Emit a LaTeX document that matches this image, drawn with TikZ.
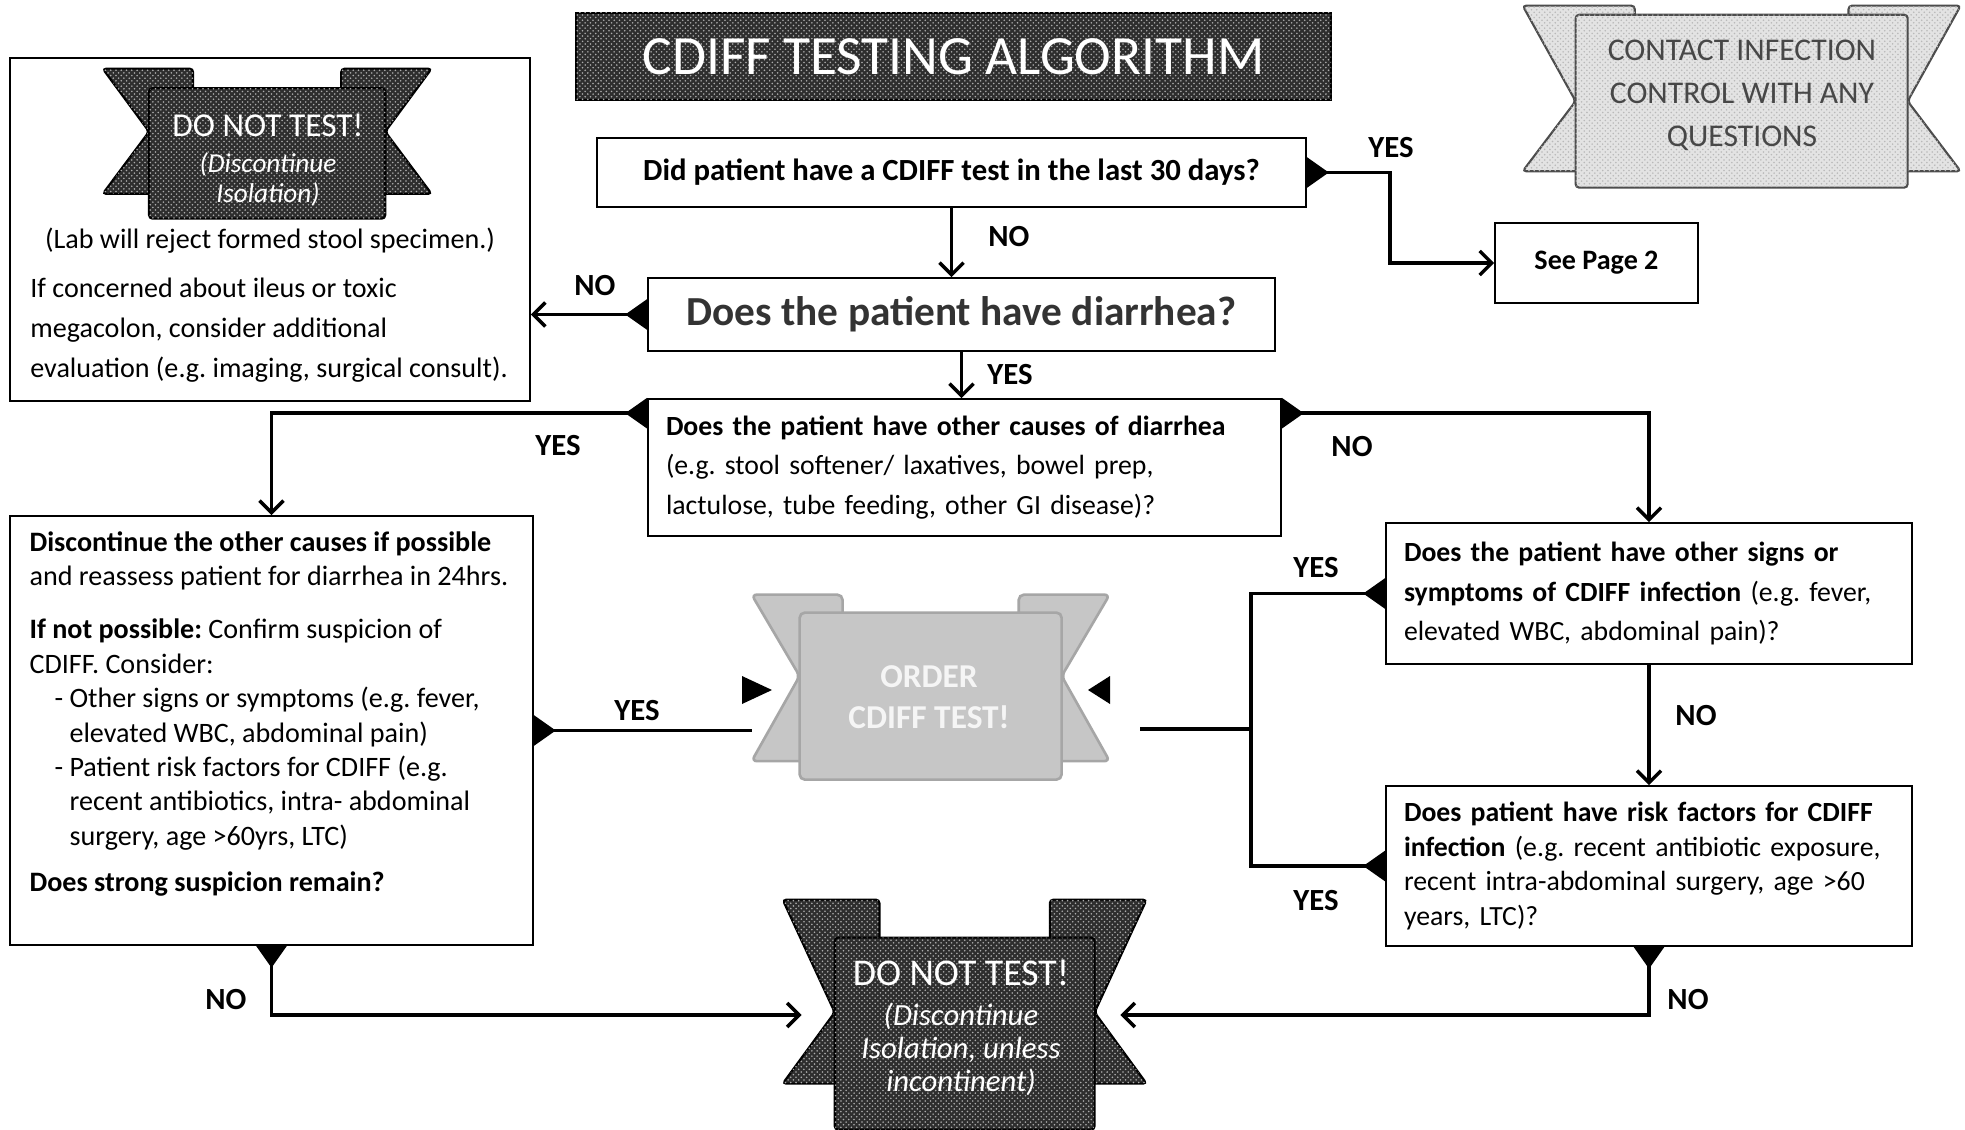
\documentclass[tikz,border=0pt]{standalone}
\usepackage{fontspec}
\setmainfont{Carlito}
\usetikzlibrary{positioning, arrows.meta, patterns}
\frenchspacing

% ribbon banner in a unit square: two notched tails, then the panel on top
\newcommand{\ribbonshape}[6]{%
  \draw[#1] (0,0) -- (#3,0) -- (#3,#6) -- (0,#6) -- (#2,#5) -- cycle;
  \draw[#1] (1,0) -- ({1-#3},0) -- ({1-#3},#6) -- (1,#6) -- ({1-#2},#5) -- cycle;
  \draw[#1] (#2,#4) rectangle ({1-#2},1);
}

\begin{document}
\begin{tikzpicture}[
    x=0.2mm, y=-0.2mm,
    box/.style={draw, line width=0.9pt, inner xsep=3.6mm, inner ysep=0pt, align=left,
        font=\fontsize{15.8}{22.5}\selectfont},
    answer/.style={font=\fontsize{17.5}{19}\selectfont\bfseries},
    line/.style={line width=2pt},
    arrow/.style={line, -{Straight Barb[length=2.4mm, width=4.8mm]}},
    fork/.style={line, {Triangle[reversed, length=4.4mm, width=6mm]}-},
    forkarrow/.style={line, {Triangle[reversed, length=4.4mm, width=6mm]}-{Straight Barb[length=2.4mm, width=4.8mm]}},
    dark/.style={fill=black!82, draw=black, line width=1.2pt, rounded corners=2pt,
        postaction={pattern=crosshatch dots, pattern color=gray!65}},
    pale/.style={fill=gray!22, draw=black!70, line width=1.2pt, rounded corners=2pt,
        postaction={pattern=crosshatch dots, pattern color=gray!55}},
    blur/.style={fill=gray!45, draw=gray!70, line width=1.5pt, rounded corners=3pt},
]
    \path[fill=white, use as bounding box] (0,0) rectangle (1965,1130);

    % ==========================================
    % Header: title bar and contact ribbon
    % ==========================================
    \node[dark, rounded corners=0pt, minimum width=151mm, minimum height=17.4mm, text=white,
        font=\fontsize{31.5}{33}\selectfont] (title) at (953.5,56.5) {CDIFF TESTING ALGORITHM};

    \node[inner sep=0, minimum width=87.6mm, minimum height=36.4mm] (contactframe) at (1742,97) {};
    \begin{scope}[shift={(contactframe.north west)}, xscale=438, yscale=182]
        \ribbonshape{pale}{0.121}{0.256}{0.05}{0.525}{0.91}
    \end{scope}
    \node[align=center, text=black!72, font=\fontsize{18}{24.5}\selectfont] (contact) at (1742,95)
        {CONTACT INFECTION\\CONTROL WITH ANY\\QUESTIONS};

    % ==========================================
    % No diarrhea: do not test
    % ==========================================
    \node[box, minimum width=104mm, minimum height=68.6mm] (formedbox) at (270,229.5) {};
    \node[inner sep=0, minimum width=65.8mm, minimum height=30mm] (skipframe) at (267.5,144) {};
    \begin{scope}[shift={(skipframe.north west)}, xscale=329, yscale=150]
        \ribbonshape{dark}{0.141}{0.275}{0.13}{0.42}{0.835}
    \end{scope}
    \node[align=center, text=white, font=\fontsize{15.5}{17}\selectfont\itshape] (skiptest) at (268,160)
        {{\upshape\fontsize{19}{21}\selectfont DO NOT TEST!}\\[1.2mm] (Discontinue\\Isolation)};
    \node[font=\fontsize{16}{18}\selectfont] (reject) at (270,241) {(Lab will reject formed stool specimen.)};
    \node[anchor=west, align=left, inner sep=0, font=\fontsize{16}{22.8}\selectfont] (ileus) at (30,330)
        {If concerned about ileus or toxic\\megacolon, consider additional\\evaluation (e.g. imaging, surgical consult).};

    % ==========================================
    % Question chain
    % ==========================================
    \node[box, minimum width=141.8mm, minimum height=13.8mm, font=\fontsize{17.5}{19}\selectfont\bfseries]
        (q30) at (951.5,172.5) {Did patient have a CDIFF test in the last 30 days?};
    \node[box, minimum width=40.6mm, minimum height=16mm, font=\fontsize{16}{18}\selectfont\bfseries]
        (page2) at (1596.5,263) {See Page 2};
    \node[box, minimum width=125.4mm, minimum height=14.6mm, text=black!80, font=\fontsize{23.5}{26}\selectfont\bfseries]
        (diarr) at (961.5,314.5) {Does the patient have diarrhea?};
    \node[box, text width=119.4mm, minimum height=27.4mm] (causes) at (964.5,467.5)
        {\textbf{Does the patient have other causes of diarrhea}\\
        (e.g. stool softener/ laxatives, bowel prep,\\
        lactulose, tube feeding, other GI disease)?};

    % left: other causes present
    \node[box, minimum width=104.6mm, minimum height=85.8mm] (stopcause) at (271.5,730.5) {};
    \node[anchor=north west, align=left, inner sep=0, font=\fontsize{16}{19.6}\selectfont] (stoptext)
        at ([xshift=4mm, yshift=-3.2mm]stopcause.north west)
        {\textbf{Discontinue the other causes if possible}\\
        and reassess patient for diarrhea in 24hrs.\\[3.7mm]
        \textbf{If not possible:} Confirm suspicion of\\
        CDIFF. Consider:\\
        \hspace*{5mm}- Other signs or symptoms (e.g. fever,\\
        \hspace*{8mm}elevated WBC, abdominal pain)\\
        \hspace*{5mm}- Patient risk factors for CDIFF (e.g.\\
        \hspace*{8mm}recent antibiotics, intra- abdominal\\
        \hspace*{8mm}surgery, age >60yrs, LTC)\\[2.3mm]
        \textbf{Does strong suspicion remain?}};

    % right: no other causes
    \node[box, text width=98mm, minimum height=28.2mm] (signs) at (1649,593.5)
        {\textbf{Does the patient have other signs or}\\
        \textbf{symptoms of CDIFF infection} (e.g. fever,\\
        elevated WBC, abdominal pain)?};
    \node[box, text width=98mm, minimum height=32mm, font=\fontsize{15.8}{19.7}\selectfont] (risk) at (1649,866)
        {\textbf{Does patient have risk factors for CDIFF}\\
        \textbf{infection} (e.g. recent antibiotic exposure,\\
        recent intra-abdominal surgery, age >60\\
        years, LTC)?};

    % outcome ribbons (frames only, drawn after the lines)
    \node[inner sep=0, minimum width=71.6mm, minimum height=37mm] (order) at (931,687.5) {};
    \node[inner sep=0, minimum width=72.8mm, minimum height=46mm] (stopbanner) at (965,1015) {};
    \coordinate (join) at (1251,729);
    \coordinate (orderright) at (1140,729);

    % ==========================================
    % Connectors
    % ==========================================
    \draw[forkarrow] (q30.east) -- ++(83,0) |- (page2.west);
    \draw[arrow] (q30.south) -- (q30.south |- diarr.north);
    \draw[forkarrow] (diarr.west) -- (diarr.west -| formedbox.east);
    \draw[arrow] (diarr.south) -- (diarr.south |- causes.north);
    \draw[forkarrow] ([yshift=-3mm]causes.north west) -| (stopcause.north);
    \draw[forkarrow] ([yshift=-3mm]causes.north east) -| (signs.north);
    \draw[arrow] (signs.south) -- (risk.north);

    \draw[fork] (stopcause.east) -- (stopcause.east -| order.west);
    \draw[fork] (signs.west) -| (join);
    \draw[fork] (risk.west) -| (join);
    \draw[line] (join) -- (orderright);

    \draw[forkarrow] (stopcause.south) |- ([xshift=3.8mm]stopbanner.west);
    \draw[forkarrow] (risk.south) |- ([xshift=-5.4mm]stopbanner.east);

    % ==========================================
    % Outcome ribbons
    % ==========================================
    \begin{scope}[shift={(order.north west)}, xscale=358, yscale=185]
        \ribbonshape{blur}{0.134}{0.254}{0.097}{0.44}{0.9}
    \end{scope}
    \fill (742,676) -- (772,690) -- (742,704) -- cycle;
    \fill (1110,676) -- (1088,690) -- (1110,704) -- cycle;
    \node[align=center, text=gray!8, font=\fontsize{19}{23.3}\selectfont\bfseries] (ordertext) at (929,697.5)
        {ORDER\\CDIFF TEST!};

    \begin{scope}[shift={(stopbanner.north west)}, xscale=364, yscale=230]
        \ribbonshape{dark}{0.143}{0.266}{0.165}{0.49}{0.80}
    \end{scope}
    \node[align=center, text=white, font=\fontsize{17.5}{18.8}\selectfont\itshape] (stopnote) at (961,1028)
        {{\upshape\fontsize{21.5}{24}\selectfont DO NOT TEST!}\\[1.4mm] (Discontinue\\Isolation, unless\\incontinent)};

    % ==========================================
    % Answer labels
    % ==========================================
    \node[answer] (yes30) at (1391,148) {YES};
    \node[answer] (no30) at (1009,237) {NO};
    \node[answer] (nodiarr) at (595,286) {NO};
    \node[answer] (yesdiarr) at (1010,375) {YES};
    \node[answer] (yescause) at (558,446) {YES};
    \node[answer] (nocause) at (1352,447) {NO};
    \node[answer] (yessigns) at (1316,568) {YES};
    \node[answer] (yessuspect) at (637,711) {YES};
    \node[answer] (nosigns) at (1696,716) {NO};
    \node[answer] (yesrisk) at (1316,901) {YES};
    \node[answer] (nosuspect) at (226,1000) {NO};
    \node[answer] (norisk) at (1688,1000) {NO};

\end{tikzpicture}
\end{document}
